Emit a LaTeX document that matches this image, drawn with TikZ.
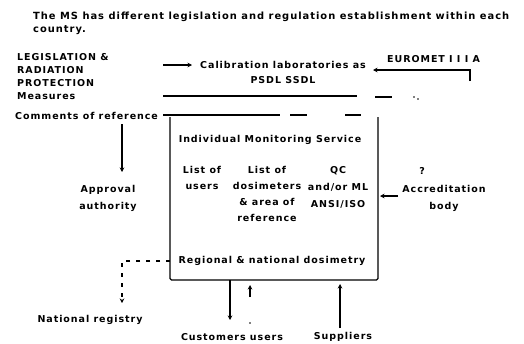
\documentclass[tikz,border=0pt]{standalone}
\usepackage{fontspec}
\setmainfont[LetterSpace=10]{DejaVu Sans}
\usetikzlibrary{arrows.meta}
\begin{document}
\begin{tikzpicture}[x=1pt,y=-1pt,
  lbl/.style={font=\bfseries\fontsize{9.5}{15}\selectfont, inner sep=0pt, align=center},
  arr/.style={-{Stealth[length=4.5pt,width=4.5pt]}, line width=1.1pt},
  ln/.style={line width=1.1pt},
  dsh/.style={line width=1.1pt, dash pattern=on 4pt off 6pt}]
\useasboundingbox (0,0) rectangle (524,343);
% title
\node[lbl, anchor=north west, align=left, font=\bfseries\fontsize{9.9}{13}\selectfont] (title) at (33,12)
  {The MS has different legislation and regulation establishment within each\\country.};
% left block
\node[lbl, anchor=north west, align=left, font=\bfseries\fontsize{9.5}{13}\selectfont] (leg) at (17,53)
  {LEGISLATION \&\\RADIATION\\PROTECTION\\Measures};
\node[lbl, anchor=west] (comm) at (15,116) {Comments of reference};
% calibration
\node[lbl] (cal) at (283,72) {Calibration laboratories as\\PSDL SSDL};
\coordinate (legarr) at (163,65);
\coordinate (calin) at (192,65);
\draw[arr] (legarr) -- (calin);
% euromet
\node[lbl, anchor=west] (eur) at (387,59) {EUROMET I I I A};
\coordinate (eurend) at (470,81);
\coordinate (eurtip) at (373,70);
\draw[arr] (eurend) -- (470,70) -- (eurtip);
% horizontal lines
\coordinate (h1a) at (163,96); \coordinate (h1b) at (357,96);
\draw[ln] (h1a) -- (h1b);
\draw[ln] (375,97) -- (392,97);
\fill (414,97) circle (0.8pt) (418,99) circle (0.8pt);
\coordinate (h2a) at (163,115); \coordinate (h2b) at (280,115);
\draw[ln] (h2a) -- (h2b);
\draw[ln] (290,115) -- (307,115);
\draw[ln] (345,115) -- (361,115);
% box
\coordinate (bxtl) at (170,117);
\coordinate (bxbl) at (170,280);
\coordinate (bxbr) at (378,280);
\coordinate (bxtr) at (378,117);
\draw[ln, rounded corners=1.5pt] (bxtl) -- (bxbl) -- (bxbr) -- (bxtr);
\node[lbl] (ims) at (270,140) {Individual Monitoring Service};
\node[lbl, anchor=north, font=\bfseries\fontsize{9.5}{16}\selectfont] (c1) at (202,166) {List of\\users};
\node[lbl, anchor=north, font=\bfseries\fontsize{9.5}{16}\selectfont] (c2) at (267,166) {List of\\dosimeters\\\& area of\\reference};
\node[lbl, anchor=north, font=\bfseries\fontsize{9.5}{17}\selectfont] (c3) at (338,166) {QC\\and/or ML\\ANSI/ISO};
\node[lbl] (reg) at (272,261) {Regional \& national dosimetry};
% approval
\coordinate (appfrom) at (122,124);
\node[lbl, font=\bfseries\fontsize{9.5}{17}\selectfont] (app) at (108,198) {Approval\\authority};
\draw[arr] (appfrom) -- (122,172);
% accreditation
\node[lbl] (q) at (422,171) {?};
\node[lbl, font=\bfseries\fontsize{9.5}{17}\selectfont] (acc) at (444,198) {Accreditation\\body};
\coordinate (accfrom) at (398,196);
\draw[arr] (accfrom) -- (380,196);
% national registry
\node[lbl] (nat) at (90,320) {National registry};
\draw[dsh, -{Stealth[length=4.5pt,width=4.5pt]}] (bxbl |- reg) -- (122,261) -- (122,303);
% bottom
\node[lbl] (cust) at (232,337) {Customers users};
\node[lbl] (sup) at (343,337) {Suppliers};
\draw[arr] (230,280) -- (230,320);
\draw[arr] (340,328) -- (340,284);
\draw[arr] (250,297) -- (250,285);
\fill (250,323) circle (0.8pt);
\end{tikzpicture}
\end{document}
